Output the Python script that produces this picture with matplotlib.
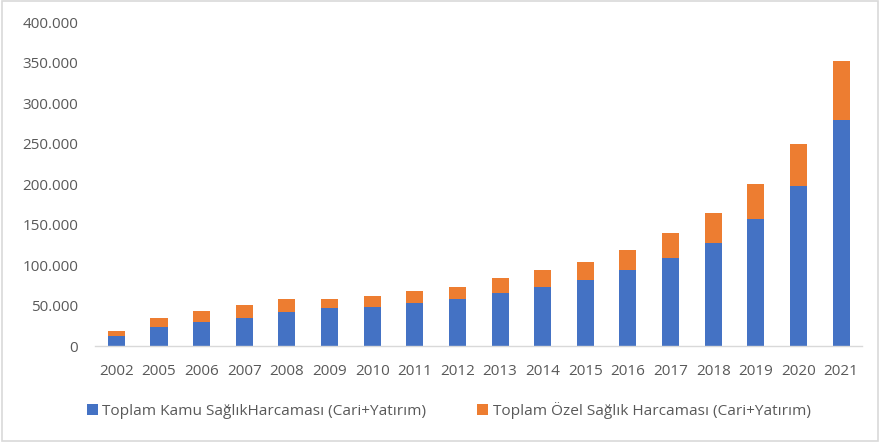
import matplotlib
matplotlib.use("Agg")
import matplotlib.pyplot as plt
from matplotlib.ticker import FuncFormatter
from matplotlib.patches import Rectangle

years = ["2002", "2005", "2006", "2007", "2008", "2009", "2010", "2011", "2012",
         "2013", "2014", "2015", "2016", "2017", "2018", "2019", "2020", "2021"]
kamu = [12700, 23800, 30000, 35000, 42000, 46900, 48100, 53600, 58500,
        65400, 72800, 81500, 93500, 109100, 127000, 156400, 197200, 279000]
ozel_total = [18900, 34600, 43200, 50200, 57600, 57600, 61300, 68400, 72500,
              83600, 93500, 104200, 118500, 139100, 164700, 199600, 249000, 352300]
ozel = [t - k for t, k in zip(ozel_total, kamu)]

series_names = ["Toplam Kamu SağlıkHarcaması (Cari+Yatırım)",
                "Toplam Özel Sağlık Harcaması (Cari+Yatırım)"]
y_ticks = [0, 50000, 100000, 150000, 200000, 250000, 300000, 350000, 400000]

plt.rcParams['font.family'] = ['Open Sans', 'DejaVu Sans']
text_color = "#595959"

fig = plt.figure(figsize=(8.8, 4.42), dpi=100)
ax = fig.add_axes([0.108, 0.217, 0.872, 0.733])

x = range(len(years))
ax.bar(x, kamu, width=0.4, color="#4472C4", label=series_names[0])
ax.bar(x, ozel, width=0.4, bottom=kamu, color="#ED7D31", label=series_names[1])

ax.set_xlim(-0.5, len(years) - 0.5)
ax.set_ylim(0, 400000)
ax.set_yticks(y_ticks)
ax.yaxis.set_major_formatter(FuncFormatter(lambda v, p: "0" if v == 0 else f"{int(v):,}".replace(",", ".")))
ax.set_xticks(list(x))
ax.set_xticklabels(years)
ax.tick_params(axis='both', length=0, labelsize=11, colors=text_color)
ax.tick_params(axis='y', pad=12)
ax.tick_params(axis='x', pad=13)
for s in ["top", "right", "left"]:
    ax.spines[s].set_visible(False)
ax.spines["bottom"].set_color("#D9D9D9")
ax.spines["bottom"].set_linewidth(1.0)

leg = fig.legend(loc="center", bbox_to_anchor=(0.51, 0.072), ncol=2, frameon=False,
                 fontsize=11.1, handlelength=0.7, handleheight=0.7, handletextpad=0.3,
                 columnspacing=3.3)
for t in leg.get_texts():
    t.set_color(text_color)

fig.patches.append(Rectangle((0.002, 0.003), 0.996, 0.994, transform=fig.transFigure,
                             fill=False, edgecolor="#D9D9D9", linewidth=1.2))

fig.savefig("out.png", dpi=100, facecolor="white")
